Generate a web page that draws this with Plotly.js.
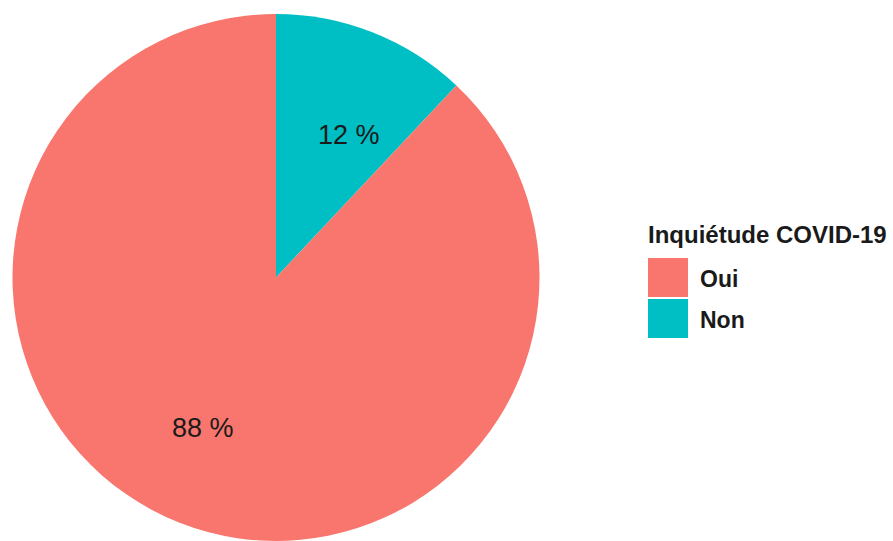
<!DOCTYPE html>
<html>
<head>
<meta charset="utf-8">
<script src="https://cdn.plot.ly/plotly-3.0.1.min.js"></script>
<style>html,body{margin:0;padding:0;background:#fff;}#chart{width:893px;height:541px;}</style>
</head>
<body>
<div id="chart"></div>
<script>
// Data
const categories = ["Oui", "Non"];
const percents = [88, 12];
const colors = ["#F8766D", "#00BFC4"];
const legendTitle = "Inquiétude COVID-19";

// Layout geometry (pixels)
const W = 893, H = 541;
const M = {l: 11, r: 0, t: 14, b: 0};
const pw = W - M.l - M.r, ph = H - M.t - M.b;
const R = Math.min(530, ph) / 2;
const cxPix = M.l + 265, cyPix = M.t + ph / 2;
const toPX = x => (x - M.l) / pw;
const toPY = y => 1 - (y - M.t) / ph;

// Pie draws "Non" first, clockwise from 12 o'clock
const order = [1, 0];
const trace = {
  type: "pie",
  labels: order.map(i => categories[i]),
  values: order.map(i => percents[i]),
  marker: {colors: order.map(i => colors[i]), line: {width: 0}},
  sort: false,
  direction: "clockwise",
  rotation: 0,
  textinfo: "none",
  hoverinfo: "label+value",
  showlegend: false,
  domain: {x: [0, 530 / pw], y: [0, 1]}
};

const annotations = [];
const shapes = [];
// slice labels computed from data
let cum = 0;
const total = percents.reduce((a, b) => a + b, 0);
order.forEach(i => {
  const mid = (cum + percents[i] / 2) / total * 2 * Math.PI + 5 * Math.PI / 180;
  cum += percents[i];
  const rr = 0.62 * R;
  const px = cxPix + rr * Math.sin(mid);
  const py = cyPix - rr * Math.cos(mid) + 4;
  annotations.push({
    x: toPX(px), y: toPY(py), xref: "paper", yref: "paper",
    text: percents[i] + " %", showarrow: false,
    font: {family: "Liberation Sans, Arial, sans-serif", size: 27, color: "#1a1a1a"},
    xanchor: "center", yanchor: "middle"
  });
});

// custom legend
annotations.push({
  x: toPX(646), y: toPY(234), xref: "paper", yref: "paper",
  text: "<b>" + legendTitle + "</b>", showarrow: false,
  font: {family: "Liberation Sans, Arial, sans-serif", size: 24, color: "#1a1a1a"},
  xanchor: "left", yanchor: "middle"
});
categories.forEach((c, k) => {
  const top = 258 + k * 41;
  shapes.push({
    type: "rect", xref: "paper", yref: "paper",
    x0: toPX(648), x1: toPX(688), y0: toPY(top), y1: toPY(top + 39),
    fillcolor: colors[k], line: {width: 0}
  });
  annotations.push({
    x: toPX(698), y: toPY(top + 21), xref: "paper", yref: "paper",
    text: "<b>" + c + "</b>", showarrow: false,
    font: {family: "Liberation Sans, Arial, sans-serif", size: 23, color: "#1a1a1a"},
    xanchor: "left", yanchor: "middle"
  });
});

const layout = {
  width: W, height: H,
  margin: M,
  paper_bgcolor: "#ffffff",
  plot_bgcolor: "#ffffff",
  showlegend: false,
  annotations: annotations,
  shapes: shapes
};

Plotly.newPlot("chart", [trace], layout, {displayModeBar: false, staticPlot: true});
</script>
</body>
</html>
